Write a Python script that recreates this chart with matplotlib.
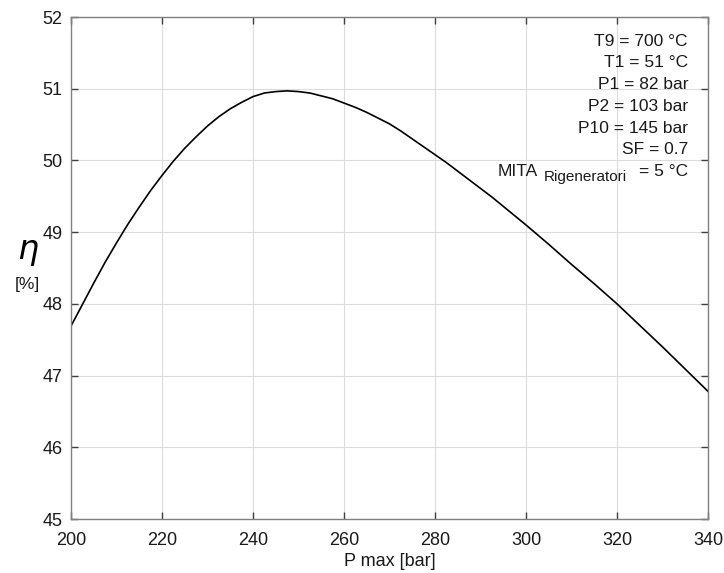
import matplotlib
matplotlib.use("Agg")
import matplotlib.pyplot as plt
import numpy as np

# curve
p_max = [200, 202.5, 205, 207.5, 210, 212.5, 215, 217.5, 220, 222.5, 225, 227.5, 230,
         232.5, 235, 237.5, 240, 242.5, 245, 247.5, 250, 252.5, 255, 257.5, 260, 262.5,
         265, 267.5, 270, 272.5, 275, 277.5, 280, 282.5, 285, 287.5, 290, 292.5, 295,
         297.5, 300, 305, 310, 315, 320, 325, 330, 335, 340]
eta = [47.69, 47.99, 48.29, 48.58, 48.85, 49.11, 49.35, 49.58, 49.79, 49.99, 50.17,
       50.33, 50.48, 50.61, 50.72, 50.81, 50.89, 50.94, 50.96, 50.97, 50.96, 50.94,
       50.90, 50.86, 50.80, 50.74, 50.67, 50.59, 50.51, 50.41, 50.30, 50.19, 50.08,
       49.97, 49.85, 49.73, 49.61, 49.49, 49.36, 49.23, 49.10, 48.83, 48.55, 48.28,
       48.00, 47.70, 47.40, 47.09, 46.78]

x_ticks = [200, 220, 240, 260, 280, 300, 320, 340]
y_ticks = [45, 46, 47, 48, 49, 50, 51, 52]

info_lines = ["T9 = 700 °C", "T1 = 51 °C", "P1 = 82 bar", "P2 = 103 bar",
              "P10 = 145 bar", "SF = 0.7"]

plt.rcParams['font.family'] = ['Liberation Sans', 'DejaVu Sans']

W, H = 724, 573
fs = 12.5
fig = plt.figure(figsize=(W / 100, H / 100), dpi=100)
ax = fig.add_axes([71 / W, 1 - 519 / H, (708 - 71) / W, (519 - 17) / H])

ax.plot(p_max, eta, color='black', lw=1.2)
ax.set_xlim(200, 340)
ax.set_ylim(45, 52)
ax.set_xticks(x_ticks)
ax.set_yticks(y_ticks)
ax.grid(True, color='#dcdcdc', lw=0.8)
ax.set_axisbelow(True)
for s in ax.spines.values():
    s.set_color('#808080')
    s.set_linewidth(1.0)
ax.tick_params(direction='in', length=5, width=1, color='#404040', top=True, right=True,
               labelsize=13, labelcolor='#1a1a1a')
ax.tick_params(axis='y', pad=6)
ax.tick_params(axis='x', pad=9.5)

ax.set_xlabel('P max [bar]', fontsize=13, labelpad=3, color='#1a1a1a')

# y label: eta over [%]
fig.text(28 / W, 1 - 253 / H, r'$\eta$', fontsize=24, ha='center', va='center',
         family='Liberation Serif')
fig.text(27 / W, 1 - 285 / H, '[%]', fontsize=fs, ha='center', va='center',
         color='#1a1a1a')

# info box
y0 = 41
for i, t in enumerate(info_lines):
    fig.text(688 / W, 1 - (y0 + i * 21.8) / H, t, fontsize=fs, ha='right', va='center',
             color='#1a1a1a')
ym = 1 - 171 / H
fig.text(498 / W, ym, 'MITA', fontsize=fs, ha='left', va='center', color='#1a1a1a')
fig.text(544 / W, 1 - 177 / H, 'Rigeneratori', fontsize=11, ha='left', va='center',
         color='#1a1a1a')
fig.text(688 / W, ym, '= 5 °C', fontsize=fs, ha='right', va='center', color='#1a1a1a')

fig.savefig('out.png', dpi=100)
